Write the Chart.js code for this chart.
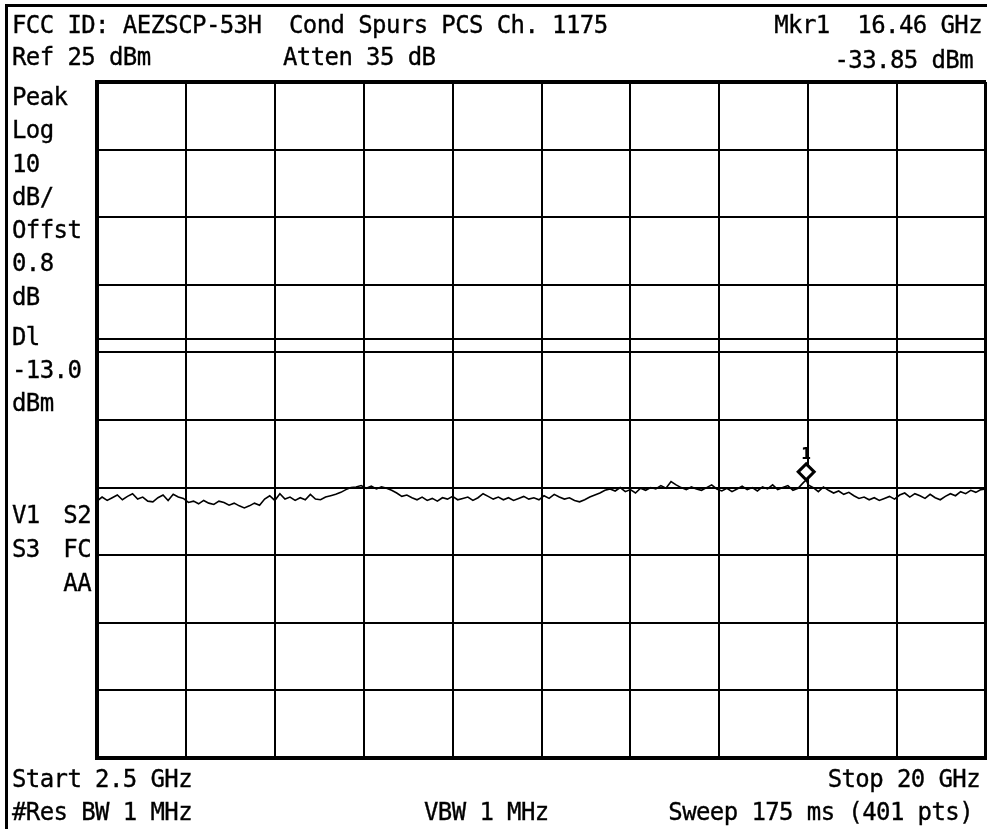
<!DOCTYPE html>
<html>
<head>
<meta charset="utf-8">
<script src="https://cdn.jsdelivr.net/npm/chart.js@4.4.1/dist/chart.umd.min.js"></script>
<style>
  html, body { margin: 0; padding: 0; background: #fff; }
  #analyzer { position: relative; width: 987px; height: 829px; overflow: hidden; background: #fff; }
  #plot { position: absolute; left: 0; top: 0; }
  .lbl { position: absolute; font-family: "DejaVu Sans Mono", monospace; font-size: 24px; line-height: 24px; letter-spacing: -0.6px; white-space: pre; color: #000; -webkit-text-stroke: 0.35px #000; }
  .frame-left { position: absolute; left: 5px; top: 4px; width: 3px; height: 825px; background: #000; }
  .frame-top { position: absolute; left: 5px; top: 4px; width: 982px; height: 3px; background: #000; }
</style>
</head>
<body>
<div id="analyzer">
  <canvas id="plot" width="987" height="829"></canvas>
  <div class="frame-left"></div>
  <div class="frame-top"></div>
</div>
<script>
// sweep settings (GHz) and screen scale (dBm)
const sweepStart = 2.5;
const sweepStop = 20;
const refLevel = 25;
const dbPerDiv = 10;
const divisions = 10;
const displayLine = -13;

// marker 1
const markerFreq = 16.46;
const markerLevel = -33.85;

// trace, one value every 0.1 GHz from start to stop (dBm)
const traceLevels = [
    -37.0, -36.4, -36.9, -36.5, -36.1, -36.8, -36.3, -35.9, -36.7, -36.4, -37.0, -37.1, -36.5, -36.1, -36.9, -36.0, -36.4, -36.6,
    -37.2, -37.0, -37.4, -36.9, -37.3, -37.5, -37.0, -37.2, -37.6, -37.3, -37.7, -38.0, -37.7, -37.3, -37.6, -36.7, -36.2, -36.9,
    -35.9, -36.7, -36.4, -36.9, -36.5, -36.8, -36.0, -36.7, -36.8, -36.4, -36.2, -36.0,
    -35.7, -35.3, -35.0,
    -34.9, -34.7, -35.1, -34.8, -35.2, -34.9, -35.1, -35.4,
    -35.8, -36.3, -36.1, -36.5,
    -36.8, -36.4, -36.9, -36.6, -37.0, -36.5, -36.7, -36.3, -36.8, -36.6,
    -36.4, -36.9, -36.5, -35.9, -36.3, -36.7, -36.4, -36.8, -36.5, -36.9,
    -36.6, -36.3, -36.7, -36.5, -36.8, -36.2, -36.6, -36.0, -36.4, -36.7,
    -36.5, -36.9, -37.1, -36.8, -36.4, -36.1, -35.8, -35.4,
    -35.2, -35.5, -35.0, -35.6, -35.3, -35.8, -35.1, -35.4, -35.0, -35.2,
    -34.7, -35.1, -34.1, -34.6, -35.0, -35.3, -34.9, -35.2, -35.4, -35.0,
    -34.6, -35.2, -35.5, -35.1, -35.6, -35.2, -34.8, -35.3, -35.0, -35.5,
    -34.9, -35.2, -34.6, -35.3, -35.0, -34.7, -35.4, -35.1, -34.3, -34.6,
    -35.0, -35.6, -34.9, -35.4, -35.8, -35.5, -36.0, -35.7, -36.2, -36.6,
    -36.4, -36.8, -36.5, -36.9, -36.6, -36.3, -36.7, -36.1, -35.8, -36.4,
    -35.9, -36.2, -36.6, -36.0, -36.5, -36.8, -36.3, -35.9, -36.2, -35.6,
    -35.9, -35.4, -35.7, -35.3, -35.2
];

const bottomLevel = refLevel - dbPerDiv * divisions;
const freqStep = (sweepStop - sweepStart) / (traceLevels.length - 1);

// trace points, with the marker reading put into the sweep
const tracePoints = traceLevels.map((v, i) => ({ x: sweepStart + i * freqStep, y: v }));
tracePoints.push({ x: markerFreq, y: markerLevel });
tracePoints.sort((a, b) => a.x - b.x);

// display line and marker diamond
const overlay = {
    id: 'overlay',
    afterDatasetsDraw(chart) {
        const { ctx, chartArea, scales: { x, y } } = chart;
        ctx.save();
        ctx.strokeStyle = '#000';
        ctx.lineWidth = 2;
        const dy = Math.round(y.getPixelForValue(displayLine));
        ctx.beginPath();
        ctx.moveTo(chartArea.left, dy);
        ctx.lineTo(chartArea.right, dy);
        ctx.stroke();

        const mx = x.getPixelForValue(markerFreq);
        const my = y.getPixelForValue(markerLevel);
        ctx.lineWidth = 3;
        ctx.beginPath();
        ctx.moveTo(mx, my);
        ctx.lineTo(mx + 8, my - 8);
        ctx.lineTo(mx, my - 16);
        ctx.lineTo(mx - 8, my - 8);
        ctx.closePath();
        ctx.fillStyle = '#fff';
        ctx.fill();
        ctx.stroke();
        ctx.fillStyle = '#000';
        ctx.font = 'bold 16px "DejaVu Sans Mono"';
        ctx.textAlign = 'center';
        ctx.fillText('1', mx, my - 21);
        ctx.restore();
    }
};

const gridWidth = (c) => (c.index === divisions ? 4 : 2);

new Chart(document.getElementById('plot').getContext('2d'), {
    type: 'line',
    data: {
        datasets: [{
            data: tracePoints,
            borderColor: '#000',
            borderWidth: 1.6,
            pointRadius: 0,
            tension: 0,
            fill: false
        }]
    },
    options: {
        responsive: false,
        animation: false,
        devicePixelRatio: 1,
        layout: { padding: { left: 97, top: 82, right: 1, bottom: 71 } },
        plugins: { legend: { display: false }, tooltip: { enabled: false } },
        scales: {
            x: {
                type: 'linear',
                min: sweepStart,
                max: sweepStop,
                ticks: { display: false, stepSize: (sweepStop - sweepStart) / divisions },
                grid: { color: '#000', lineWidth: gridWidth, drawTicks: false },
                border: { color: '#000', width: 4 },
                afterFit: (s) => { s.height = 0; }
            },
            y: {
                min: bottomLevel,
                max: refLevel,
                ticks: { display: false, stepSize: dbPerDiv },
                grid: { color: '#000', lineWidth: gridWidth, drawTicks: false },
                border: { color: '#000', width: 4 },
                afterFit: (s) => { s.width = 0; }
            }
        }
    },
    plugins: [overlay]
});

// screen annotations
const box = document.getElementById('analyzer');
function label(text, x, base, align) {
    const el = document.createElement('div');
    el.className = 'lbl';
    el.textContent = text;
    el.style.top = (base - 20.3) + 'px';
    if (align === 'right') {
        el.style.right = (987 - x) + 'px';
    } else {
        el.style.left = x + 'px';
    }
    box.appendChild(el);
}

label('FCC ID: AEZSCP-53H  Cond Spurs PCS Ch. 1175', 12, 33);
label('Mkr1  16.46 GHz', 982, 33, 'right');
label('Ref 25 dBm', 12, 65);
label('Atten 35 dB', 283, 65);
label('-33.85 dBm', 973, 68, 'right');

label('Peak', 12, 105);
label('Log', 12, 138);
label('10', 12, 172);
label('dB/', 12, 205);
label('Offst', 12, 238);
label('0.8', 12, 271);
label('dB', 12, 305);
label('Dl', 12, 345);
label('-13.0', 12, 378);
label('dBm', 12, 411);

label('V1', 12, 523);
label('S2', 91, 523, 'right');
label('S3', 12, 557);
label('FC', 91, 557, 'right');
label('AA', 91, 591, 'right');

label('Start 2.5 GHz', 12, 787);
label('Stop 20 GHz', 980, 787, 'right');
label('#Res BW 1 MHz', 12, 820);
label('VBW 1 MHz', 424, 820);
label('Sweep 175 ms (401 pts)', 973, 820, 'right');
</script>
</body>
</html>
